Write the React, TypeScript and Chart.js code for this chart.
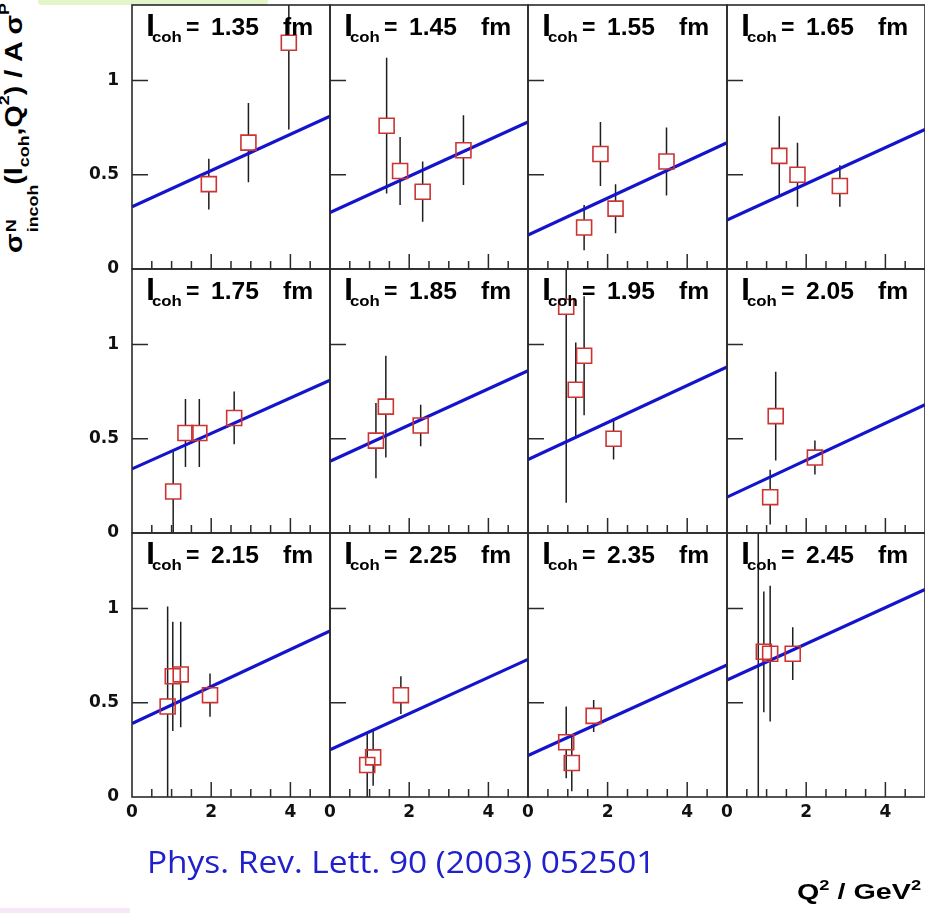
import React, { useEffect, useLayoutEffect, useRef } from "react";
import { Chart, registerables } from "chart.js";

Chart.register(...registerables);

// ---------- data ----------
const lcohLabels = ["1.35", "1.45", "1.55", "1.65", "1.75", "1.85", "1.95", "2.05", "2.15", "2.25", "2.35", "2.45"];

// linear fit: value at Q2 = 0 and at Q2 = 5 GeV^2
const fitAtQ2Zero = [0.33, 0.30, 0.18, 0.26, 0.34, 0.38, 0.39, 0.19, 0.39, 0.25, 0.22, 0.62];
const fitAtQ2Five = [0.81, 0.78, 0.67, 0.74, 0.81, 0.86, 0.88, 0.68, 0.88, 0.73, 0.70, 1.10];
const fitQ2Range = [0, 5];

const q2Points = [
  [1.94, 2.94, 3.96],
  [1.43, 1.77, 2.34, 3.37],
  [1.41, 1.82, 2.2, 3.48],
  [1.32, 1.78, 2.85],
  [1.04, 1.35, 1.7, 2.58],
  [1.16, 1.41, 2.29],
  [0.96, 1.2, 1.41, 2.15],
  [1.09, 1.23, 2.22],
  [0.9, 1.03, 1.23, 1.97],
  [0.94, 1.09, 1.79],
  [0.96, 1.1, 1.65],
  [0.79, 0.93, 1.09, 1.66],
];

const sigmaPoints = [
  [0.45, 0.67, 1.2],
  [0.76, 0.52, 0.41, 0.63],
  [0.22, 0.61, 0.32, 0.57],
  [0.6, 0.5, 0.44],
  [0.22, 0.53, 0.53, 0.61],
  [0.49, 0.67, 0.57],
  [1.2, 0.76, 0.94, 0.5],
  [0.19, 0.62, 0.4],
  [0.48, 0.64, 0.65, 0.54],
  [0.17, 0.21, 0.54],
  [0.29, 0.18, 0.43],
  [1.5, 0.77, 0.76, 0.76],
];

const sigmaErrors = [
  [0.135, 0.21, 0.46],
  [0.36, 0.18, 0.16, 0.185],
  [0.12, 0.17, 0.13, 0.18],
  [0.21, 0.17, 0.11],
  [0.22, 0.18, 0.18, 0.14],
  [0.2, 0.27, 0.11],
  [1.04, 0.25, 0.315, 0.11],
  [0.145, 0.235, 0.09],
  [0.53, 0.29, 0.28, 0.115],
  [0.17, 0.15, 0.1],
  [0.19, 0.15, 0.085],
  [1.6, 0.32, 0.36, 0.14],
];

const xTickValues = [0, 2, 4];
const xTickLabels = ["0", "2", "4"];
const xMinorTickValues = [0.5, 1, 1.5, 2, 2.5, 3, 3.5, 4, 4.5];
const xMajorTickValues = [2, 4];
const yTickValues = [0, 0.5, 1];
const yTickLabels = ["0", "0.5", "1"];
const yInnerTickValues = [0.5, 1];
const xRange = [0, 5];
const yRange = [0, 1.4];

// ---------- layout / style ----------
const COL_LEFT = [132, 330, 528, 727];
const COL_W = [198, 198, 199, 198];
const ROW_TOP = [5, 269, 533];
const ROW_H = 264;
const M = 14;
const PAD_L = 60;
const PAD_B = 34;

const BLUE = "#1414cc";
const RED = "#cc3333";
const FRAME = "#2a2a2a";
const TICK_FONT = { family: "'DejaVu Sans', sans-serif", weight: "bold" as const, size: 17 };

function Panel({ index }: { index: number }) {
  const ref = useRef<HTMLCanvasElement>(null);
  const row = Math.floor(index / 4);
  const col = index % 4;
  const padL = col === 0 ? PAD_L : 0;
  const padB = row === 2 ? PAD_B : 0;
  const left = COL_LEFT[col] - padL - M;
  const top = ROW_TOP[row] - M;
  const width = COL_W[col] + padL + 2 * M;
  const height = ROW_H + padB + 2 * M;

  useEffect(() => {
    const canvas = ref.current;
    if (!canvas) return;

    const panelPlugin = {
      id: "panelDecor" + index,
      beforeDatasetsDraw(chart: any) {
        const { ctx, chartArea: a, scales } = chart;
        const xs = scales.x, ys = scales.y;
        ctx.save();
        ctx.beginPath();
        ctx.rect(a.left, a.top, a.right - a.left, a.bottom - a.top);
        ctx.clip();
        ctx.strokeStyle = "#1e1e1e";
        ctx.lineWidth = 1.5;
        const h = 7.5;
        q2Points[index].forEach((q, k) => {
          const v = sigmaPoints[index][k];
          const e = sigmaErrors[index][k];
          const px = xs.getPixelForValue(q);
          const pc = ys.getPixelForValue(v);
          const pt = ys.getPixelForValue(v + e);
          const pb = ys.getPixelForValue(v - e);
          ctx.beginPath();
          if (pt < pc - h) {
            ctx.moveTo(px, pt);
            ctx.lineTo(px, pc - h);
          }
          if (pb > pc + h) {
            ctx.moveTo(px, pc + h);
            ctx.lineTo(px, pb);
          }
          ctx.stroke();
        });
        ctx.restore();
      },
      afterDatasetsDraw(chart: any) {
        const { ctx, chartArea: a, scales } = chart;
        const xs = scales.x, ys = scales.y;
        ctx.save();
        // inner ticks
        ctx.strokeStyle = FRAME;
        ctx.lineWidth = 1.5;
        ctx.beginPath();
        xMinorTickValues.forEach((v) => {
          const px = xs.getPixelForValue(v);
          const len = xMajorTickValues.includes(v) ? 15 : 8;
          ctx.moveTo(px, a.bottom);
          ctx.lineTo(px, a.bottom - len);
        });
        yInnerTickValues.forEach((v) => {
          const py = ys.getPixelForValue(v);
          ctx.moveTo(a.left, py);
          ctx.lineTo(a.left + 16, py);
        });
        ctx.stroke();
        // frame
        ctx.lineWidth = 1.6;
        ctx.strokeRect(a.left, a.top, a.right - a.left, a.bottom - a.top);

        // panel label  l_coh = x.xx  fm
        ctx.fillStyle = "#000";
        ctx.textBaseline = "alphabetic";
        ctx.textAlign = "left";
        const by = a.top + 30;
        const drawS = (t: string, x: number, y: number, size: number, sx: number) => {
          ctx.save();
          ctx.translate(x, y);
          ctx.scale(sx, 1);
          ctx.font = `bold ${size}px "Liberation Sans", Arial, sans-serif`;
          ctx.fillText(t, 0, 0);
          ctx.restore();
        };
        drawS("l", a.left + 14, by + 0.5, 30, 1.1);
        drawS("coh", a.left + 20, by + 6.5, 15, 1.12);
        drawS("=", a.left + 54, by, 23, 1.0);
        drawS(lcohLabels[index], a.left + 79, by, 23, 1.07);
        drawS("fm", a.left + 151, by, 23, 1.07);
        ctx.restore();
      },
    };

    const chart = new Chart(canvas, {
      type: "scatter",
      data: {
        datasets: [
          {
            type: "line",
            data: [
              { x: fitQ2Range[0], y: fitAtQ2Zero[index] },
              { x: fitQ2Range[1], y: fitAtQ2Five[index] },
            ],
            borderColor: BLUE,
            borderWidth: 3.2,
            pointRadius: 0,
            fill: false,
            order: 2,
            clip: 0,
          } as any,
          {
            type: "scatter",
            data: q2Points[index].map((x, k) => ({ x, y: sigmaPoints[index][k] })),
            pointStyle: "rect",
            pointRadius: 10.6,
            borderColor: RED,
            borderWidth: 1.6,
            backgroundColor: "rgba(0,0,0,0)",
            order: 1,
            clip: 0,
          } as any,
        ],
      },
      options: {
        animation: false,
        responsive: false,
        events: [],
        layout: { padding: { left: M, right: M, top: M, bottom: M } },
        plugins: { legend: { display: false }, tooltip: { enabled: false } },
        scales: {
          x: {
            type: "linear",
            min: xRange[0],
            max: xRange[1],
            display: row === 2,
            afterFit: (s: any) => {
              s.height = padB;
              s.paddingLeft = 0;
              s.paddingRight = 0;
            },
            afterBuildTicks: (s: any) => {
              s.ticks = xTickValues.map((v) => ({ value: v }));
            },
            ticks: {
              callback: (v: any) => xTickLabels[xTickValues.indexOf(Number(v))],
              font: TICK_FONT,
              color: "#111",
              padding: 5,
              maxRotation: 0,
              autoSkip: false,
            },
            grid: { display: false, drawTicks: false },
            border: { display: false },
          },
          y: {
            type: "linear",
            min: yRange[0],
            max: yRange[1],
            display: col === 0,
            afterFit: (s: any) => {
              s.width = padL;
              s.paddingTop = 0;
              s.paddingBottom = 0;
            },
            afterBuildTicks: (s: any) => {
              s.ticks = yTickValues.map((v) => ({ value: v }));
            },
            ticks: {
              callback: (v: any) => yTickLabels[yTickValues.indexOf(Number(v))],
              font: TICK_FONT,
              color: "#111",
              padding: 13,
              autoSkip: false,
            },
            grid: { display: false, drawTicks: false },
            border: { display: false },
          },
        },
      },
      plugins: [panelPlugin],
    });
    return () => chart.destroy();
  }, [index]);

  return (
    <canvas
      ref={ref}
      width={width}
      height={height}
      style={{ position: "absolute", left, top, width, height }}
    />
  );
}

function FitText({
  width,
  rotate,
  style,
  children,
}: {
  width: number;
  rotate?: boolean;
  style: React.CSSProperties;
  children: React.ReactNode;
}) {
  const ref = useRef<HTMLDivElement>(null);
  useLayoutEffect(() => {
    const el = ref.current;
    if (!el) return;
    const w = el.offsetWidth;
    const s = w > 0 ? width / w : 1;
    el.style.transform = (rotate ? "rotate(-90deg) " : "") + `scaleX(${s})`;
  }, [width, rotate]);
  return (
    <div
      ref={ref}
      style={{
        position: "absolute",
        whiteSpace: "nowrap",
        transformOrigin: "0 0",
        ...style,
      }}
    >
      {children}
    </div>
  );
}

export default function App() {
  const sub15: React.CSSProperties = { fontSize: 15, position: "relative", top: 7 };
  const sup15: React.CSSProperties = { fontSize: 15, position: "relative", top: -13 };
  return (
    <div
      style={{
        position: "absolute",
        left: 0,
        top: 0,
        width: 925,
        height: 913,
        overflow: "hidden",
        background: "#fff",
      }}
    >
      <div
        style={{
          position: "absolute",
          left: 38,
          top: 0,
          width: 230,
          height: 5,
          background: "#e3f5c9",
          borderRadius: "0 0 4px 4px",
        }}
      />
      <div
        style={{
          position: "absolute",
          left: 0,
          top: 908,
          width: 130,
          height: 5,
          background: "#f6e8f6",
        }}
      />
      {lcohLabels.map((_, i) => (
        <Panel key={i} index={i} />
      ))}

      <FitText
        width={250}
        rotate
        style={{
          left: 0,
          top: 253,
          height: 46,
          lineHeight: "46px",
          font: 'bold 24px "Liberation Sans", Arial, sans-serif',
          color: "#000",
        }}
      >
        <span>σ</span>
        <span
          style={{
            display: "inline-flex",
            flexDirection: "column",
            verticalAlign: "top",
            fontSize: 15,
            lineHeight: "22px",
            paddingLeft: 1,
          }}
        >
          <span>N</span>
          <span>incoh</span>
        </span>
        <span>(l</span>
        <span style={sub15}>coh</span>
        <span>,Q</span>
        <span style={sup15}>2</span>
        <span>{") / A σ"}</span>
        <span style={sup15}>P</span>
      </FitText>

      <FitText
        width={508}
        style={{
          left: 147,
          top: 841,
          font: '31px "Open Sans", "DejaVu Sans", sans-serif',
          lineHeight: "40px",
          color: "#2020cc",
        }}
      >
        Phys. Rev. Lett. 90 (2003) 052501
      </FitText>

      <FitText
        width={124}
        style={{
          left: 797,
          top: 877,
          font: 'bold 22px "Liberation Sans", Arial, sans-serif',
          lineHeight: "30px",
          color: "#000",
        }}
      >
        <span>Q</span>
        <span style={{ fontSize: 14, position: "relative", top: -9 }}>2</span>
        <span>{" / GeV"}</span>
        <span style={{ fontSize: 14, position: "relative", top: -9 }}>2</span>
      </FitText>
    </div>
  );
}
